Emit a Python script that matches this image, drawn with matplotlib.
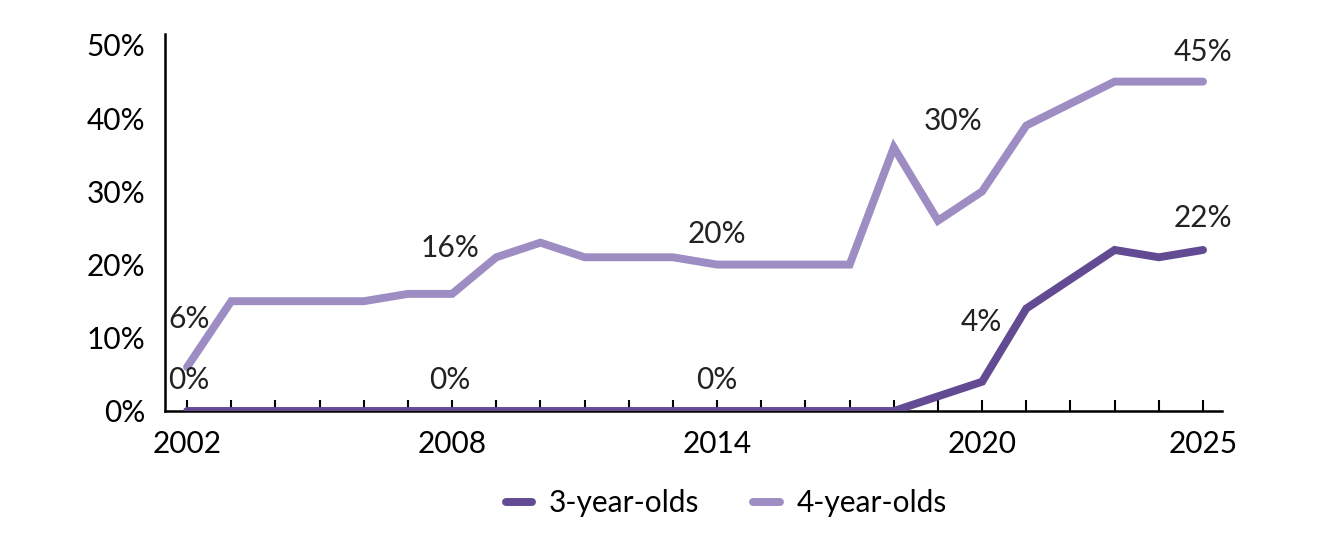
import matplotlib.pyplot as plt
from matplotlib.ticker import FuncFormatter

plt.rcParams['font.family'] = ['Lato', 'DejaVu Sans']

years = list(range(2002, 2026))
age3 = [0, 0, 0, 0, 0, 0, 0, 0, 0, 0, 0, 0, 0, 0, 0, 0, 0, 2, 4, 14, 18, 22, 21, 22]
age4 = [6, 15, 15, 15, 15, 16, 16, 21, 23, 21, 21, 21, 20, 20, 20, 20, 36, 26, 30, 39, 42, 45, 45, 45]

# labelled years and pixel offsets (dx, dy) for each series
labels4 = {2002: (2, 48), 2008: (-2, 46), 2014: (0, 31), 2020: (-29, 70), 2025: (0, 30)}
labels3 = {2002: (2, 31), 2008: (-2, 31), 2014: (0, 31), 2020: (-1, 60), 2025: (0, 32)}

c3 = '#624b93'
c4 = '#9d8dc3'
fs = 21.5
lw = 5.7

fig = plt.figure(figsize=(13.34, 5.41), dpi=100)
ax = fig.add_axes([165 / 1334, 1 - 411 / 541, (1222 - 165) / 1334, (411 - 45) / 541])

ax.plot(years, age3, color=c3, lw=lw, solid_capstyle='round', solid_joinstyle='miter', label='3-year-olds', zorder=3)
ax.plot(years, age4, color=c4, lw=lw, solid_capstyle='round', solid_joinstyle='miter', label='4-year-olds', zorder=2)

for series, labs in ((age4, labels4), (age3, labels3)):
    for yr, (dx, dy) in labs.items():
        v = series[years.index(yr)]
        ax.annotate(f'{v}%', (yr, v), xytext=(dx * 0.72, dy * 0.72), textcoords='offset points',
                    ha='center', va='center', fontsize=fs, color='#222222')

ax.set_xlim(2001.5, 2025.43)
ax.set_ylim(0, 50)
ax.set_xticks(years)
ax.set_xticklabels([str(y) if y in (2002, 2008, 2014, 2020, 2025) else '' for y in years])
ax.set_yticks([0, 10, 20, 30, 40, 50])
ax.yaxis.set_major_formatter(FuncFormatter(lambda v, p: f'{v:.0f}%'))

for s in ('top', 'right'):
    ax.spines[s].set_visible(False)
for s in ('left', 'bottom'):
    ax.spines[s].set_linewidth(1.8)
    ax.spines[s].set_color('black')
ax.spines['left'].set_bounds(0, 51.5)
ax.tick_params(axis='x', direction='in', length=8, width=1.5, labelsize=fs, pad=14)
ax.tick_params(axis='y', length=0, labelsize=fs, pad=14)

leg = fig.legend(loc='center', bbox_to_anchor=(726 / 1334, 1 - 503 / 541), ncol=2, frameon=False,
                 fontsize=fs, handlelength=0.9, columnspacing=1.8, handletextpad=0.55)
for h in leg.get_lines():
    h.set_linewidth(lw)
    h.set_solid_capstyle('round')

fig.savefig('out.png', dpi=100)
